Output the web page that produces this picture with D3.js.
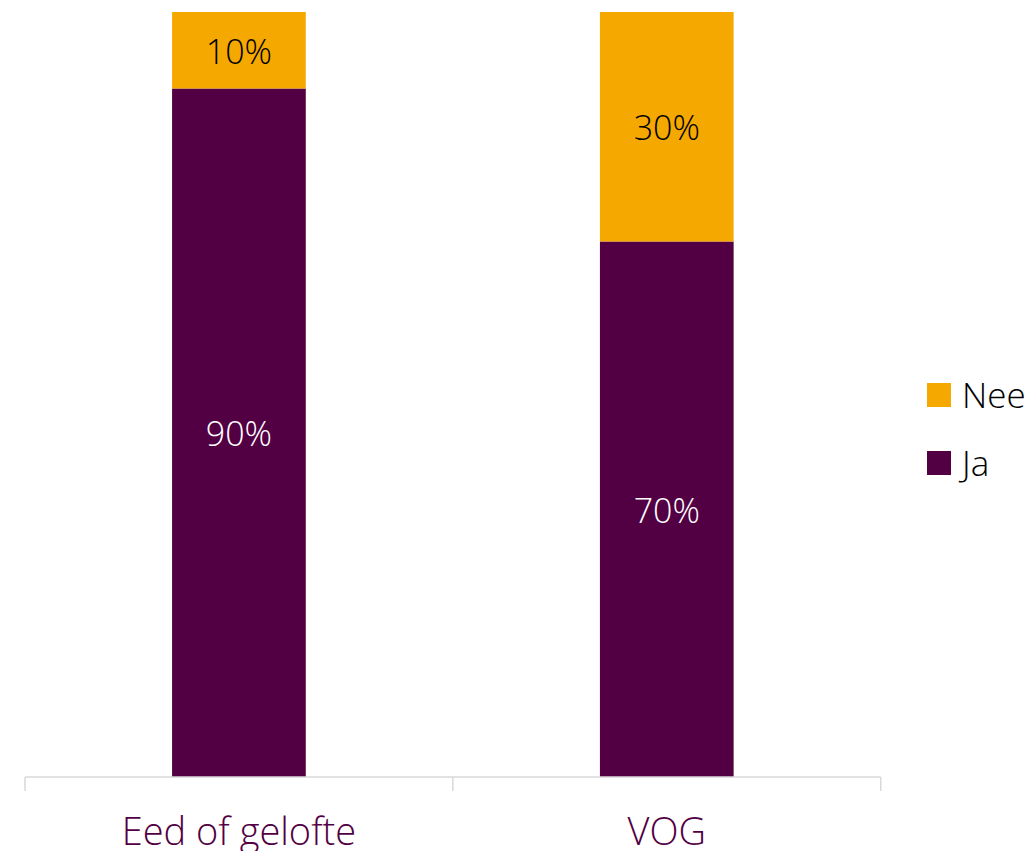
<!DOCTYPE html>
<html><head><meta charset="utf-8">
<script src="https://cdn.jsdelivr.net/npm/d3@7/dist/d3.min.js"></script>
<style>body{margin:0;background:#fff}text{font-family:"Open Sans","Segoe UI",sans-serif;font-weight:300}</style>
</head><body>
<svg id="c" width="1033" height="851"></svg>
<script>
const categories = ["Eed of gelofte", "VOG"];
const seriesNames = ["Ja", "Nee"];
const ja = [0.90, 0.70];
const nee = [0.10, 0.30];
const colors = {"Ja": "#520043", "Nee": "#F5A800"};
const labelColors = {"Ja": "#ffffff", "Nee": "#000000"};

const svg = d3.select("#c");
const x = d3.scaleBand().domain(categories).range([25, 880.7]).padding(0);
const y = d3.scaleLinear().domain([0, 1]).range([777, 12]);
const barW = x.bandwidth() * 0.3125;

const data = categories.map((c, i) => ({cat: c, Ja: ja[i], Nee: nee[i]}));
const stacked = d3.stack().keys(seriesNames)(data);

const g = svg.append("g");
stacked.forEach(s => {
  g.selectAll(null).data(s).enter().append("rect")
    .attr("x", d => x(d.data.cat) + (x.bandwidth() - barW) / 2)
    .attr("width", barW)
    .attr("y", d => y(d[1]))
    .attr("height", d => y(d[0]) - y(d[1]))
    .attr("fill", colors[s.key]);
  g.selectAll(null).data(s).enter().append("text")
    .attr("x", d => x(d.data.cat) + x.bandwidth() / 2)
    .attr("y", d => (y(d[0]) + y(d[1])) / 2)
    .attr("dy", "0.4em")
    .attr("text-anchor", "middle")
    .attr("font-size", 34)
    .attr("fill", labelColors[s.key])
    .text(d => d3.format(".0%")(d[1] - d[0]));
});

// axis
const ax = svg.append("g");
ax.append("line").attr("x1", 25).attr("x2", 880.7).attr("y1", 777).attr("y2", 777)
  .attr("stroke", "#d9d9d9").attr("stroke-width", 1.5);
const edges = categories.map(c => x(c)).concat([x(categories[categories.length - 1]) + x.bandwidth()]);
ax.selectAll(null).data(edges).enter().append("line")
  .attr("x1", d => d).attr("x2", d => d).attr("y1", 777).attr("y2", 791)
  .attr("stroke", "#d9d9d9").attr("stroke-width", 1.5);
ax.selectAll(null).data(categories).enter().append("text")
  .attr("x", d => x(d) + x.bandwidth() / 2)
  .attr("y", 845)
  .attr("text-anchor", "middle")
  .attr("font-size", 38)
  .attr("fill", "#520043")
  .text(d => d);

// legend
const legendItems = ["Nee", "Ja"];
const lg = svg.append("g");
legendItems.forEach((k, i) => {
  const ly = 383 + i * 68;
  lg.append("rect").attr("x", 927).attr("y", ly).attr("width", 24).attr("height", 24).attr("fill", colors[k]);
  lg.append("text").attr("x", 962).attr("y", ly + 12).attr("dy", "0.37em")
    .attr("font-size", 35).attr("fill", "#000").text(k);
});
</script>
</body></html>
